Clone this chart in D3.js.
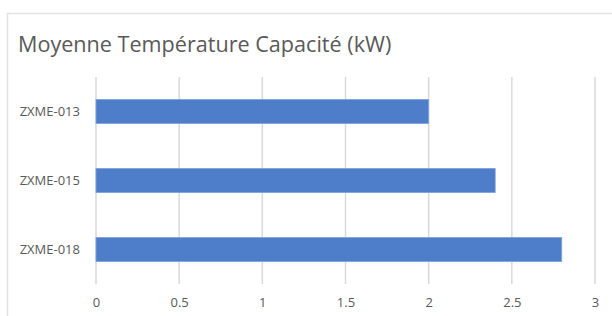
<!DOCTYPE html>
<html>
<head>
<meta charset="utf-8">
<script src="https://cdn.jsdelivr.net/npm/d3@7"></script>
<style>
  body { margin: 0; background: #fff; }
  text { font-family: "Open Sans", sans-serif; fill: #595959; }
</style>
</head>
<body>
<script>
// chart size
var width = 612;
var height = 316;

// data
var categories = ["ZXME-013", "ZXME-015", "ZXME-018"];
var values = [2.0, 2.4, 2.8];
var tickValues = [0, 0.5, 1, 1.5, 2, 2.5, 3];
var title = "Moyenne Température Capacité (kW)";

var svg = d3.select("body").append("svg")
  .attr("width", width)
  .attr("height", height);

// outer chart frame (only top and left edges visible)
svg.append("rect")
  .attr("x", 7.5)
  .attr("y", 13.5)
  .attr("width", 700)
  .attr("height", 400)
  .attr("fill", "none")
  .attr("stroke", "#e3e3e3")
  .attr("stroke-width", 1.5);

svg.append("text")
  .attr("x", 18)
  .attr("y", 52)
  .style("font-size", "21.6px")
  .text(title);

var x = d3.scaleLinear()
  .domain([0, 3])
  .range([96, 595]);

var y = d3.scaleBand()
  .domain(categories)
  .range([77, 284])
  .paddingInner(0.65)
  .paddingOuter(0.325);

// gridlines
svg.append("g").selectAll("line")
  .data(tickValues)
  .enter()
  .append("line")
  .attr("x1", function(d) { return x(d); })
  .attr("x2", function(d) { return x(d); })
  .attr("y1", 77)
  .attr("y2", 284)
  .attr("stroke", "#d9d9d9")
  .attr("stroke-width", 1.5);

// bars
svg.append("g").selectAll("rect")
  .data(values)
  .enter()
  .append("rect")
  .attr("x", x(0))
  .attr("y", function(d, i) { return y(categories[i]); })
  .attr("width", function(d) { return x(d) - x(0); })
  .attr("height", y.bandwidth())
  .attr("fill", "#4e7dc9")
  .attr("stroke", "#7fa2db")
  .attr("stroke-width", 0.8);

// x axis labels
var xAxis = svg.append("g")
  .attr("transform", "translate(0,298)")
  .call(d3.axisBottom(x).tickValues(tickValues).tickSize(0).tickPadding(0)
    .tickFormat(function(d) { return String(d); }));
xAxis.select(".domain").remove();
xAxis.selectAll("text")
  .attr("dy", "0.71em")
  .style("font-size", "13px")
  .style("font-family", "'Open Sans', sans-serif")
  .attr("fill", "#595959");

// y axis labels
var yAxis = svg.append("g")
  .attr("transform", "translate(80,0)")
  .call(d3.axisLeft(y).tickSize(0).tickPadding(0));
yAxis.select(".domain").remove();
yAxis.selectAll("text")
  .style("font-size", "13px")
  .style("font-family", "'Open Sans', sans-serif")
  .attr("fill", "#595959");
</script>
</body>
</html>
